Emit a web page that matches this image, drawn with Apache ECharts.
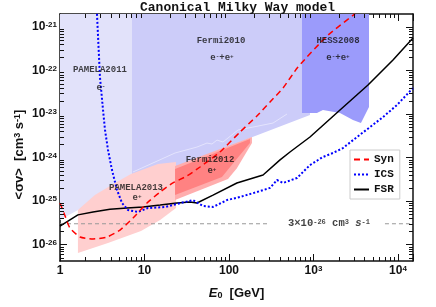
<!DOCTYPE html>
<html><head><meta charset="utf-8">
<script src="https://cdn.jsdelivr.net/npm/echarts@6/dist/echarts.min.js"></script>
<style>html,body{margin:0;padding:0;background:#fff}#c{width:436px;height:307px}</style>
</head><body><div id="c"></div>
<script>
const E_MIN = 1, E_MAX = 15060, SV_MIN = 4.18e-27, SV_MAX = 1.99e-21;

// Syn (red dashed)
const synE  = [1,1.115,1.31,1.73,2.46,3.6,5.13,7.31,10.7,15.3,21.7,31.8,45.4,78.2,135,214,306,436,656,1485,3098];
const synSV = [9.0e-26,5.3e-26,2.4e-26,1.49e-26,1.34e-26,1.49e-26,2.15e-26,4.06e-26,9.0e-26,1.61e-25,2.6e-25,3.76e-25,6.05e-25,1.34e-24,3.86e-24,9.0e-24,1.89e-23,3.96e-23,1.2e-22,6.5e-22,2.0e-21];
// ICS (blue dotted)
const icsE  = [2.74,2.97,3.23,3.41,3.70,4.12,4.73,5.42,6.38,8.4,11.0,17.5,30.2,37.5,49.2,64.7,94.7,135,214,306,370,436,638,909,1295,1701,2234,3273,4665,6640,9730,15060];
const icsSV = [2.0e-21,7.1e-23,1.24e-23,4.3e-24,1.49e-24,5.2e-25,1.79e-25,9.0e-26,6.2e-26,5.6e-26,6.9e-26,7.3e-26,9.5e-26,1.05e-25,7.7e-26,7.3e-26,1.05e-25,1.24e-25,1.61e-25,2.0e-25,3.04e-25,2.6e-25,3.38e-25,6.7e-25,1.03e-24,1.27e-24,1.65e-24,2.96e-24,5.0e-24,8.5e-24,1.61e-23,3.96e-23];
// FSR (black solid)
const fsrE  = [1,1.63,2.46,3.9,6.21,9.6,15.3,24.2,34.5,41.8,64.7,124,253,402,527,909,2060,4416,8730,15060];
const fsrSV = [2.66e-26,4.8e-26,5.6e-26,6.5e-26,6.9e-26,7.3e-26,8.1e-26,9.0e-26,9.5e-26,9.0e-26,1.37e-25,2.6e-25,3.96e-25,8.8e-25,1.34e-24,2.96e-24,1.24e-23,4.65e-23,1.74e-22,5.6e-22];

// thermal cross section reference
const thermalSV = 3e-26;
const thermalLeftE = [1, 290];
const thermalRightE = [7015, 15060];

// exclusion regions [E, sigma v]
const pamela2011 = [[1,3e-21],[7.1,3e-21],[7.1,3.04e-25],[1.63,6.2e-26],[1,3.66e-26]];
const fermi2010  = [[7.1,3e-21],[909,3e-21],[909,9.5e-24],[177,2.8e-24],[23,5.7e-25],[7.1,3.76e-25]];
const hess2008   = [[731,3e-21],[4540,3e-21],[4540,1.45e-23],[3648,6.2e-24],[2934,7.3e-24],[2060,1.05e-23],[1295,1.24e-23],[1100,1.05e-23],[731,1.05e-23]];
const pamela2013 = [[1.63,6.2e-26],[2.59,1.37e-25],[4.48,2.6e-25],[6.92,4.2e-25],[14.4,7.1e-25],[23.6,7.9e-25],[23.6,6.9e-26],[15.3,3.66e-26],[9.1,2.04e-26],[3.70,1.08e-26],[1.63,6.4e-27]];
const fermi2012Outer = [[23,6.4e-25],[187,2.96e-24],[187,2.15e-24],[124,5.7e-25],[97.3,3.2e-25],[23,1.05e-25]];
const fermi2012Core  = [[23,5.45e-25],[177,2.66e-24],[177,2.15e-24],[103,6.05e-25],[82.6,3.56e-25],[23,1.37e-25]];
const fermiEdgeE  = [7.31,23.0,41.8,54.9,62.9,72.1,84.9,128,192,332,486];
const fermiEdgeSV = [4.65e-25,1.27e-24,1.74e-24,2.15e-24,2.04e-24,2.52e-24,2.27e-24,4.3e-24,5.0e-24,6.2e-24,1.0e-23];

// annotations
const noteTexts = ['{t|PAMELA2011}','{t|e}{sp|-}','{t|Fermi2010}','{t|e}{sp|-}{t|+e}{sp|+}','{t|HESS2008}','{t|e}{sp|-}{t|+e}{sp|+}','{t|Fermi2012}','{t|e}{sp|+}','{t|PAMELA2013}','{t|e}{sp|+}','{b|3×10}{bs|-26}{b| cm}{bs|3}{b| }{bi|s}{bs|-1}'];
const noteE  = [2.97,3.05,80.4,82.6,1950,1950,59.6,62.9,7.93,8.15,1525];
const noteSV = [1.03e-22,3.96e-23,4.77e-22,1.94e-22,4.77e-22,1.94e-22,8.8e-25,4.9e-25,2.0e-25,1.17e-25,3e-26];

const xTickLabels = {0:'{b|1}',1:'{b|10}',2:'{b|100}',3:'{b|10}{s|3}',4:'{b|10}{s|4}'};

const zip = (a,b) => a.map((v,i)=>[v,b[i]]);
const SANS = 'Liberation Sans', MONO = 'Liberation Mono';
const tickRich = {
  b:{fontFamily:SANS,fontWeight:'bold',fontSize:12,color:'#111'},
  s:{fontFamily:SANS,fontWeight:'bold',fontSize:8,color:'#111',verticalAlign:'top'}
};
function isDecade(v){const l=Math.log10(v);return Math.abs(l-Math.round(l))<1e-6;}
function xLab(v){ if(!isDecade(v)) return ''; const p=Math.round(Math.log10(v)); return xTickLabels[p]||''; }
function yLab(v){ if(!isDecade(v)) return ''; const p=Math.round(Math.log10(v)); return '{b|10}{s|'+p+'}'; }

function poly(name, pts, color, z){
  return {type:'custom', name, silent:true, clip:true, z, data:[[2,1e-24]],
    renderItem:(params, api)=>({type:'polygon', shape:{points:pts.map(p=>api.coord(p))}, style:{fill:color}})};
}

const xMinor=[], yMinor=[];
for(let k=0;k<=4;k++) for(let m=2;m<=9;m++){const v=m*Math.pow(10,k); if(v>E_MIN&&v<E_MAX) xMinor.push(v);}
for(let k=-27;k<=-21;k++) for(let m=2;m<=9;m++){const v=m*Math.pow(10,k); if(v>SV_MIN&&v<SV_MAX) yMinor.push(v);}

const axisLine = {show:true,onZero:false,lineStyle:{color:'#111',width:1.5}};
const axisTick = {show:true,inside:true,length:7,lineStyle:{color:'#111',width:1}};

const option = {
  animation:false,
  backgroundColor:'#fff',
  title:{text:'Canonical Milky Way model',left:140,top:1,padding:0,
    textStyle:{fontFamily:MONO,fontWeight:'bold',fontSize:13,color:'#111'}},
  grid:{left:60,right:23,top:14,bottom:46,containLabel:false,outerBoundsMode:'none'},
  legend:{show:true,data:['Syn','ICS','FSR'],orient:'vertical',left:350,top:150,
    padding:[4,6,4,3],itemGap:4,itemWidth:15,itemHeight:8,
    itemStyle:{opacity:0,borderWidth:0},
    backgroundColor:'#fff',borderColor:'#ccc',borderWidth:1,borderRadius:0,
    textStyle:{fontFamily:MONO,fontWeight:'bold',fontSize:11,color:'#111'}},
  xAxis:[
    {type:'log',logBase:10,min:E_MIN,max:E_MAX,position:'bottom',axisLine,axisTick,
     splitLine:{show:false},axisLabel:{margin:4,formatter:xLab,rich:tickRich},
     name:'{i|E}{sub|0}{a|  [GeV]}',nameLocation:'middle',nameGap:26,nameMoveOverlap:false,
     nameTextStyle:{rich:{
       i:{fontFamily:SANS,fontWeight:'bold',fontStyle:'italic',fontSize:13,color:'#111'},
       sub:{fontFamily:SANS,fontWeight:'bold',fontSize:9,color:'#111',verticalAlign:'bottom'},
       a:{fontFamily:SANS,fontWeight:'bold',fontSize:13,color:'#111'}}}},
    {type:'log',logBase:10,min:E_MIN,max:E_MAX,position:'top',axisLine,axisTick,
     splitLine:{show:false},axisLabel:{show:false}}
  ],
  yAxis:[
    {type:'log',logBase:10,min:SV_MIN,max:SV_MAX,position:'left',axisLine,axisTick,
     splitLine:{show:false},axisLabel:{margin:3,formatter:yLab,rich:tickRich},
     name:'{a|<σv>  [cm}{s|3}{a| s}{s|-1}{a|]}{g| }',nameLocation:'middle',nameGap:34,nameMoveOverlap:false,
     nameTextStyle:{rich:{
       a:{fontFamily:SANS,fontWeight:'bold',fontSize:13,color:'#111'},
       s:{fontFamily:SANS,fontWeight:'bold',fontSize:9,color:'#111',verticalAlign:'top'},
       g:{fontSize:13,width:34}}}},
    {type:'log',logBase:10,min:SV_MIN,max:SV_MAX,position:'right',axisLine,axisTick,
     splitLine:{show:false},axisLabel:{show:false}}
  ],
  series:[
    poly('PAMELA2011', pamela2011, '#e2e2fa', 1),
    poly('Fermi2010', fermi2010, '#ccccf9', 1),
    poly('HESS2008', hess2008, '#9b9bfb', 1),
    {type:'line',name:'edge',silent:true,data:zip(fermiEdgeE,fermiEdgeSV),symbol:'none',
     lineStyle:{color:'#e4e4fd',width:1},z:1},
    poly('PAMELA2013', pamela2013, '#ffcfcf', 2),
    poly('Fermi2012o', fermi2012Outer, '#ffadad', 2),
    poly('Fermi2012', fermi2012Core, '#ff8282', 2),
    {type:'line',name:'thermalL',silent:true,data:thermalLeftE.map(e=>[e,thermalSV]),symbol:'none',
     lineStyle:{color:'#999',width:1,type:[4,3]},z:3},
    {type:'line',name:'thermalR',silent:true,data:thermalRightE.map(e=>[e,thermalSV]),symbol:'none',
     lineStyle:{color:'#999',width:1,type:[4,3]},z:3},
    {type:'line',name:'FSR',data:zip(fsrE,fsrSV),symbol:'none',color:'#000',
     lineStyle:{color:'#000',width:1.5,type:'solid'},z:4},
    {type:'line',name:'ICS',data:zip(icsE,icsSV),symbol:'none',color:'#0000ff',
     lineStyle:{color:'#0000ff',width:2,type:[2,2]},z:5},
    {type:'line',name:'Syn',data:zip(synE,synSV),symbol:'none',color:'#ff0000',smooth:0.2,
     lineStyle:{color:'#ff0000',width:1.5,type:[6,4]},z:6},
    {type:'scatter',name:'notes',silent:true,symbolSize:0,z:7,
     data:zip(noteE,noteSV),
     label:{show:true,position:'inside',formatter:p=>noteTexts[p.dataIndex],
       rich:{t:{fontFamily:MONO,fontWeight:'bold',fontSize:9,color:'#111'},
             sp:{fontFamily:MONO,fontWeight:'bold',fontSize:6,color:'#111',verticalAlign:'top'},
             b:{fontFamily:MONO,fontWeight:'bold',fontSize:10.5,color:'#111'},
             bi:{fontFamily:MONO,fontWeight:'bold',fontStyle:'italic',fontSize:10.5,color:'#111'},
             bs:{fontFamily:MONO,fontWeight:'bold',fontSize:7,color:'#111',verticalAlign:'top'}}}},
    {type:'custom',name:'minorTicks',silent:true,clip:false,z:10,data:[[2,1e-24]],
     renderItem:(params, api)=>{
       const bl=api.coord([E_MIN,SV_MIN]), tr=api.coord([E_MAX,SV_MAX]);
       const ch=[]; const st={stroke:'#111',lineWidth:1};
       xMinor.forEach(v=>{const x=Math.round(api.coord([v,SV_MIN])[0])+0.5;
         ch.push({type:'line',shape:{x1:x,y1:bl[1],x2:x,y2:bl[1]-4},style:st});
         ch.push({type:'line',shape:{x1:x,y1:tr[1],x2:x,y2:tr[1]+4},style:st});});
       yMinor.forEach(v=>{const y=Math.round(api.coord([E_MIN,v])[1])+0.5;
         ch.push({type:'line',shape:{x1:bl[0],y1:y,x2:bl[0]+4,y2:y},style:st});
         ch.push({type:'line',shape:{x1:tr[0],y1:y,x2:tr[0]-4,y2:y},style:st});});
       return {type:'group',children:ch};
     }}
  ]
};
const chart = echarts.init(document.getElementById('c'), null, {renderer:'canvas'});
chart.setOption(option);
</script></body></html>
